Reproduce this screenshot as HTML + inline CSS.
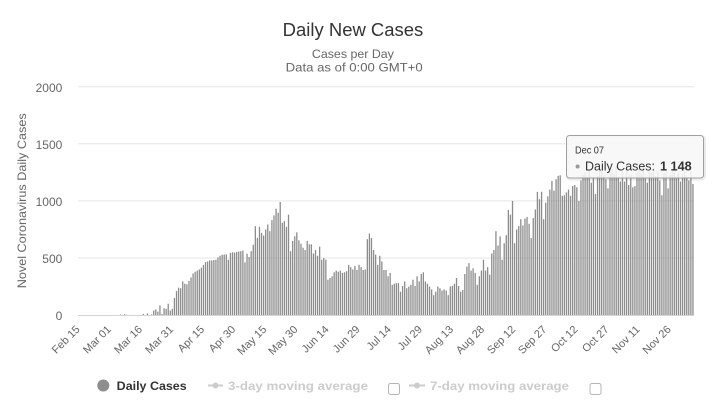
<!DOCTYPE html>
<html>
<head>
<meta charset="utf-8">
<style>
html,body{margin:0;padding:0;background:#fff;}
svg{display:block;font-family:"Liberation Sans",sans-serif;}
</style>
</head>
<body>
<svg id="c" width="720" height="412" viewBox="0 0 720 412" xmlns="http://www.w3.org/2000/svg">
<rect x="0" y="0" width="720" height="412" fill="#fff"/>
<!-- titles -->
<text x="353" y="36.2" text-anchor="middle" font-size="18" fill="#333" textLength="140.6" lengthAdjust="spacingAndGlyphs">Daily New Cases</text>
<text x="352.9" y="58" text-anchor="middle" font-size="12.3" fill="#666" textLength="82" lengthAdjust="spacingAndGlyphs">Cases per Day</text>
<text x="354.2" y="71.3" text-anchor="middle" font-size="12.3" fill="#666" textLength="137" lengthAdjust="spacingAndGlyphs">Data as of 0:00 GMT+0</text>
<!-- grid -->
<g stroke="#e6e6e6" stroke-width="1">
<line x1="78" x2="694" y1="86.7" y2="86.7"/>
<line x1="78" x2="694" y1="143.8" y2="143.8"/>
<line x1="78" x2="694" y1="200.9" y2="200.9"/>
<line x1="78" x2="694" y1="258" y2="258"/>
</g>
<g id="bars" fill="#8c8c8c"></g>
<line x1="78" x2="694" y1="315.5" y2="315.5" stroke="#d4d4d4" stroke-width="1"/>
<!-- y labels -->
<g font-size="12" fill="#666" text-anchor="end">
<text x="62.3" y="92">2000</text>
<text x="62.3" y="149">1500</text>
<text x="62.3" y="206">1000</text>
<text x="62.3" y="263">500</text>
<text x="62.3" y="320">0</text>
</g>
<text x="26" y="200.8" transform="rotate(-90 26 200.8)" text-anchor="middle" font-size="12" fill="#666" textLength="175" lengthAdjust="spacingAndGlyphs">Novel Coronavirus Daily Cases</text>
<!-- x labels -->
<g font-size="11" fill="#666" text-anchor="end">
<text transform="translate(80.5,330) rotate(-45)">Feb 15</text>
<text transform="translate(111.7,330) rotate(-45)">Mar 01</text>
<text transform="translate(142.8,330) rotate(-45)">Mar 16</text>
<text transform="translate(173.9,330) rotate(-45)">Mar 31</text>
<text transform="translate(205,330) rotate(-45)">Apr 15</text>
<text transform="translate(236.1,330) rotate(-45)">Apr 30</text>
<text transform="translate(267.2,330) rotate(-45)">May 15</text>
<text transform="translate(298.3,330) rotate(-45)">May 30</text>
<text transform="translate(329.4,330) rotate(-45)">Jun 14</text>
<text transform="translate(360.5,330) rotate(-45)">Jun 29</text>
<text transform="translate(391.7,330) rotate(-45)">Jul 14</text>
<text transform="translate(422.8,330) rotate(-45)">Jul 29</text>
<text transform="translate(453.9,330) rotate(-45)">Aug 13</text>
<text transform="translate(485,330) rotate(-45)">Aug 28</text>
<text transform="translate(516.1,330) rotate(-45)">Sep 12</text>
<text transform="translate(547.2,330) rotate(-45)">Sep 27</text>
<text transform="translate(578.3,330) rotate(-45)">Oct 12</text>
<text transform="translate(609.4,330) rotate(-45)">Oct 27</text>
<text transform="translate(640.5,330) rotate(-45)">Nov 11</text>
<text transform="translate(671.6,330) rotate(-45)">Nov 26</text>
</g>
<!-- legend -->
<circle cx="103.3" cy="385.5" r="6" fill="#8e8e8e"/>
<text x="116.7" y="389.8" font-size="12" font-weight="bold" fill="#333" textLength="70" lengthAdjust="spacingAndGlyphs">Daily Cases</text>
<line x1="208" x2="223" y1="385.5" y2="385.5" stroke="#ccc" stroke-width="2"/>
<circle cx="215.5" cy="385.5" r="3" fill="#ccc"/>
<text x="228" y="389.8" font-size="12" font-weight="bold" fill="#ccc" textLength="140" lengthAdjust="spacingAndGlyphs">3-day moving average</text>
<rect x="388.5" y="383.5" width="11" height="11" rx="2" fill="#fff" stroke="#b5b5b5" stroke-width="1"/>
<line x1="409" x2="425" y1="385.5" y2="385.5" stroke="#ccc" stroke-width="2"/>
<circle cx="417" cy="385.5" r="3" fill="#ccc"/>
<text x="430" y="389.8" font-size="12" font-weight="bold" fill="#ccc" textLength="139" lengthAdjust="spacingAndGlyphs">7-day moving average</text>
<rect x="590" y="383.5" width="11" height="11" rx="2" fill="#fff" stroke="#b5b5b5" stroke-width="1"/>
<!-- tooltip -->
<rect x="567.5" y="136.5" width="137" height="42.5" rx="3" fill="none" stroke="rgba(0,0,0,0.08)" stroke-width="3"/>
<rect x="566.5" y="135.5" width="137" height="42.5" rx="3" fill="rgba(247,247,247,0.88)" stroke="#a0a0a0" stroke-width="1"/>
<text x="575" y="153.3" font-size="10.5" fill="#333" textLength="29" lengthAdjust="spacingAndGlyphs">Dec 07</text>
<circle cx="577.6" cy="166.5" r="2" fill="#999"/>
<text x="585" y="170.7" font-size="13" fill="#333" textLength="70" lengthAdjust="spacingAndGlyphs">Daily Cases:</text>
<text x="660" y="170.7" font-size="13" font-weight="bold" fill="#333" textLength="31.7" lengthAdjust="spacingAndGlyphs">1 148</text>
</svg>
<script>
(function(){
var d=[0,0,0,0,0,0,0,0,0,0,0,0,0,0,0,0,0,0,0,0,
5,0,8,3,0,2,0,0,0,0,0,10,0,15,0,5,40,50,30,85,10,60,55,100,40,55,
150,210,240,235,295,275,270,300,330,365,380,390,400,415,440,465,470,480,478,482,485,505,520,528,530,532,485,545,550,548,552,556,560,565,462,538,509,560,617,779,676,773,720,697,750,794,735,832,873,932,897,991,809,823,
773,880,560,650,690,725,655,625,590,570,650,620,620,540,570,520,600,485,500,485,310,325,340,375,390,380,390,370,375,385,440,420,400,430,395,440,420,395,400,665,715,675,570,530,440,520,470,395,395,340,370,265,275,280,280,205,255,295,235,250,265,310,255,340,295,360,375,295,275,250,225,175,205,250,235,215,225,215,175,250,255,275,325,255,205,220,360,425,455,390,410,370,265,340,390,485,390,420,355,540,
570,735,610,690,485,630,700,920,880,1000,630,750,780,840,785,845,860,800,675,850,925,1080,1015,1080,840,985,1040,1100,1175,1090,1190,1220,1225,1045,1050,1075,1100,1045,1130,1140,1120,1000,
1180,1230,1250,1210,1270,1160,1200,1060,1220,1260,1290,1230,1190,1110,1250,1280,1240,1300,1210,1170,1260,1170,1290,1140,1230,1120,1130,1250,1280,1230,1310,1200,1160,1270,1250,1290,1220,1260,1180,1050,1240,1270,1110,1230,1260,1290,1200,1250,1170,1230,1270,1210,1180,1260,1148];
var g=document.getElementById('bars');var ns='http://www.w3.org/2000/svg';
var pitch=616/297;
for(var i=0;i<d.length;i++){
  if(d[i]<=0)continue;
  var cx=78+(i+0.5)*pitch;
  var h=d[i]*0.11415;
  var r=document.createElementNS(ns,'rect');
  r.setAttribute('x',(cx-0.65).toFixed(2));
  r.setAttribute('y',(315.1-h).toFixed(2));
  r.setAttribute('width','1.3');
  r.setAttribute('height',h.toFixed(2));
  g.appendChild(r);
}
})();
</script>
</body>
</html>
